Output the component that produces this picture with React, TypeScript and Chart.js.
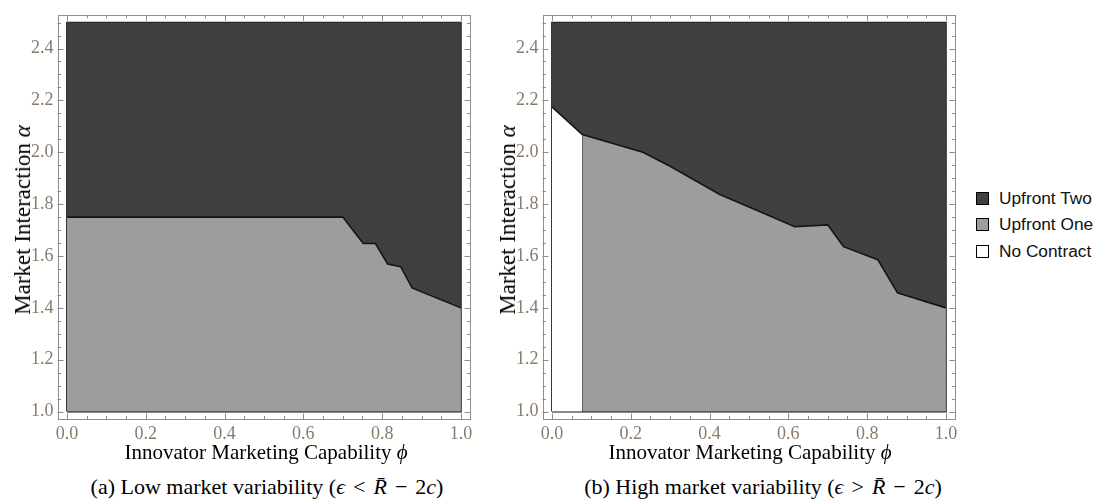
import React, { useEffect, useRef } from 'react';
import { Chart, registerables } from 'chart.js';

Chart.register(...registerables);

// Axis tick values
const phiTicks = [0, 0.2, 0.4, 0.6, 0.8, 1.0];
const alphaTicks = [1.0, 1.2, 1.4, 1.6, 1.8, 2.0, 2.2, 2.4];

// Region extent in (phi, alpha)
const phiBounds = [0, 1];
const alphaBounds = [1.0, 2.5];

// (a) Low variability: boundary between Upfront One (below) and Upfront Two (above)
const lowPhi = [0, 0.7, 0.752, 0.783, 0.814, 0.847, 0.876, 1.0];
const lowAlpha = [1.75, 1.75, 1.648, 1.648, 1.569, 1.559, 1.477, 1.4];

// (b) High variability: upper boundary of Upfront One / No Contract
const highPhi = [0, 0.077, 0.231, 0.3, 0.426, 0.527, 0.616, 0.7, 0.74, 0.827, 0.877, 1.0];
const highAlpha = [2.175, 2.068, 2.0, 1.946, 1.837, 1.772, 1.713, 1.72, 1.636, 1.586, 1.458, 1.4];
// phi below which no contract is signed
const noContractPhi = 0.077;

const regionNames = ['Upfront Two', 'Upfront One', 'No Contract'];
const regionColors = ['#404040', '#9d9d9d', '#ffffff'];

const EDGE = '#141414';
const FRAME = '#8e8e8e';
const TICK_TEXT = '#8a7a68';
const SERIF = "'Liberation Serif', 'Times New Roman', serif";
const SANS = "'Liberation Sans', Arial, sans-serif";

type Pt = { x: number; y: number };
const pts = (xs: number[], ys: number[]): Pt[] => xs.map((x, i) => ({ x, y: ys[i] }));

const outline = (): Pt[] => [
  { x: phiBounds[0], y: alphaBounds[0] },
  { x: phiBounds[1], y: alphaBounds[0] },
  { x: phiBounds[1], y: alphaBounds[1] },
  { x: phiBounds[0], y: alphaBounds[1] },
  { x: phiBounds[0], y: alphaBounds[0] },
];

// Frame with inward major/minor tick marks on all four sides
const frameTicks = {
  id: 'frameTicks',
  afterDraw(chart: any) {
    const { ctx, chartArea, scales } = chart;
    const { left, right, top, bottom } = chartArea;
    const xs = scales.x;
    const ys = scales.y;
    ctx.save();
    ctx.strokeStyle = FRAME;
    ctx.lineWidth = 1;
    ctx.strokeRect(Math.round(left) + 0.5, Math.round(top) + 0.5, Math.round(right - left) - 1, Math.round(bottom - top) - 1);
    ctx.beginPath();
    for (let i = 0; i <= 20; i++) {
      const v = phiBounds[0] + i * 0.05;
      const len = i % 4 === 0 ? 6 : 3.5;
      const px = Math.round(xs.getPixelForValue(v)) + 0.5;
      ctx.moveTo(px, bottom);
      ctx.lineTo(px, bottom - len);
      ctx.moveTo(px, top);
      ctx.lineTo(px, top + len);
    }
    for (let i = 0; i <= 30; i++) {
      const v = alphaBounds[0] + i * 0.05;
      const len = i % 4 === 0 ? 6 : 3.5;
      const py = Math.round(ys.getPixelForValue(v)) + 0.5;
      ctx.moveTo(left, py);
      ctx.lineTo(left + len, py);
      ctx.moveTo(right, py);
      ctx.lineTo(right - len, py);
    }
    ctx.stroke();
    ctx.restore();
  },
};

const baseLine = { pointRadius: 0, tension: 0, borderJoinStyle: 'miter' as const };

function lowDatasets() {
  const b = pts(lowPhi, lowAlpha);
  return [
    { ...baseLine, label: regionNames[0], data: b, fill: { value: alphaBounds[1] }, backgroundColor: regionColors[0], borderColor: EDGE, borderWidth: 1.6 },
    { ...baseLine, label: regionNames[1], data: b, fill: { value: alphaBounds[0] }, backgroundColor: regionColors[1], borderWidth: 0 },
    { ...baseLine, label: 'frame', data: outline(), fill: false, borderColor: EDGE, borderWidth: 1.6 },
  ];
}

function highDatasets() {
  const b = pts(highPhi, highAlpha);
  const k = highPhi.indexOf(noContractPhi);
  return [
    { ...baseLine, label: regionNames[0], data: b, fill: { value: alphaBounds[1] }, backgroundColor: regionColors[0], borderColor: EDGE, borderWidth: 1.6 },
    { ...baseLine, label: regionNames[1], data: b.slice(k), fill: { value: alphaBounds[0] }, backgroundColor: regionColors[1], borderWidth: 0 },
    { ...baseLine, label: regionNames[2], data: b.slice(0, k + 1), fill: { value: alphaBounds[0] }, backgroundColor: regionColors[2], borderWidth: 0 },
    {
      ...baseLine, label: 'split', fill: false, borderColor: EDGE, borderWidth: 1.6,
      data: [{ x: noContractPhi, y: alphaBounds[0] }, { x: noContractPhi, y: highAlpha[k] }],
    },
    { ...baseLine, label: 'frame', data: outline(), fill: false, borderColor: EDGE, borderWidth: 1.6 },
  ];
}

const W = 480;
const H = 470;

function RegionChart({ left, build }: { left: number; build: () => any[] }) {
  const ref = useRef<HTMLCanvasElement | null>(null);
  useEffect(() => {
    if (!ref.current) return;
    const tickFont = { family: SERIF, size: 18 };
    const chart = new Chart(ref.current, {
      type: 'line',
      data: { datasets: build() },
      plugins: [frameTicks],
      options: {
        animation: false,
        responsive: false,
        maintainAspectRatio: false,
        events: [],
        layout: { padding: { top: 7.6, right: 9.6, left: 0, bottom: 0 } },
        plugins: { legend: { display: false }, tooltip: { enabled: false } },
        scales: {
          x: {
            type: 'linear',
            min: phiBounds[0] - 0.024,
            max: phiBounds[1] + 0.024,
            grid: { display: false, drawTicks: false },
            border: { display: false },
            afterBuildTicks: (s: any) => { s.ticks = phiTicks.map((v) => ({ value: v })); },
            afterFit: (s: any) => { s.height = 50.6; },
            ticks: {
              padding: 4, color: TICK_TEXT, font: tickFont, autoSkip: false, maxRotation: 0,
              callback: (v: any) => Number(v).toFixed(1),
            },
          },
          y: {
            type: 'linear',
            min: alphaBounds[0] - 0.03,
            max: alphaBounds[1] + 0.03,
            grid: { display: false, drawTicks: false },
            border: { display: false },
            afterBuildTicks: (s: any) => { s.ticks = alphaTicks.map((v) => ({ value: v })); },
            afterFit: (s: any) => { s.width = 57.5; },
            ticks: {
              padding: 4, color: TICK_TEXT, font: tickFont, autoSkip: false,
              callback: (v: any) => Number(v).toFixed(1),
            },
          },
        },
      } as any,
    });
    return () => chart.destroy();
  }, []);
  return (
    <canvas
      ref={ref}
      width={W}
      height={H}
      style={{ position: 'absolute', left, top: 0, width: W, height: H }}
    />
  );
}

const titleStyle: React.CSSProperties = {
  position: 'absolute',
  fontFamily: SERIF,
  fontSize: 21,
  color: '#000',
  whiteSpace: 'nowrap',
  lineHeight: '26px',
};

const I = ({ children }: { children: React.ReactNode }) => (
  <span style={{ fontStyle: 'italic' }}>{children}</span>
);

// Binary operator with math-style spacing
const Op = ({ children }: { children: React.ReactNode }) => (
  <span style={{ margin: '0 8px' }}>{children}</span>
);

function YTitle({ cx, cy }: { cx: number; cy: number }) {
  return (
    <div style={{ ...titleStyle, fontSize: 23, left: cx, top: cy, transform: 'translate(-50%, -50%) rotate(-90deg)' }}>
      Market Interaction <I>α</I>
    </div>
  );
}

function Centered({ cx, cy, size, children }: { cx: number; cy: number; size?: number; children: React.ReactNode }) {
  return (
    <div style={{ ...titleStyle, fontSize: size ?? 21, left: cx, top: cy, transform: 'translate(-50%, -50%)' }}>{children}</div>
  );
}

function Legend() {
  const rows = [0, 1, 2];
  return (
    <div style={{ position: 'absolute', left: 976, top: 185 }}>
      {rows.map((i) => (
        <div key={i} style={{ display: 'flex', alignItems: 'center', height: 26.5 }}>
          <span
            style={{
              display: 'inline-block', width: 11, height: 11, border: '1px solid #000',
              background: regionColors[i], marginRight: 10,
            }}
          />
          <span style={{ fontFamily: SANS, fontSize: 17.3, color: '#111' }}>{regionNames[i]}</span>
        </div>
      ))}
    </div>
  );
}

export default function App() {
  useEffect(() => {
    document.body.style.margin = '0';
    document.body.style.background = '#fff';
  }, []);
  return (
    <div style={{ position: 'absolute', left: 0, top: 0, width: 1098, height: 503, background: '#fff', overflow: 'hidden' }}>
      <RegionChart left={0} build={lowDatasets} />
      <RegionChart left={485} build={highDatasets} />
      <YTitle cx={23} cy={220} />
      <YTitle cx={508} cy={220} />
      <Centered cx={266} cy={452}>Innovator Marketing Capability <I>ϕ</I></Centered>
      <Centered cx={750} cy={452}>Innovator Marketing Capability <I>ϕ</I></Centered>
      <Centered cx={267} cy={487} size={22}>
        (a) Low market variability (<I>ϵ</I><Op>&lt;</Op><I>R&#772;</I><Op>−</Op>2<I>c</I>)
      </Centered>
      <Centered cx={763} cy={487} size={22}>
        (b) High market variability (<I>ϵ</I><Op>&gt;</Op><I>R&#772;</I><Op>−</Op>2<I>c</I>)
      </Centered>
      <Legend />
    </div>
  );
}
